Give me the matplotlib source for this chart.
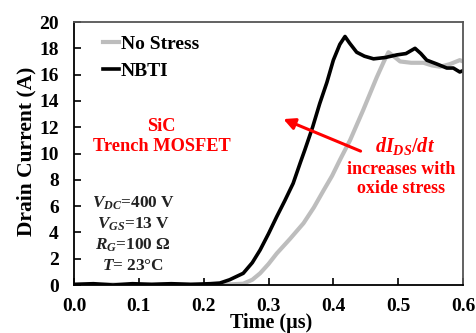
import matplotlib
matplotlib.use("Agg")
import matplotlib.pyplot as plt

plt.rcParams['font.family'] = ['Liberation Serif', 'DejaVu Serif']
plt.rcParams['font.weight'] = 'bold'
plt.rcParams['mathtext.fontset'] = 'custom'
plt.rcParams['mathtext.rm'] = 'Liberation Serif:bold'
plt.rcParams['mathtext.it'] = 'Liberation Serif:italic:bold'
plt.rcParams['mathtext.bf'] = 'Liberation Serif:bold'

# Data (time in us, current in A)
nbti_t = [0.0, 0.03, 0.06, 0.09, 0.12, 0.15, 0.18, 0.21, 0.225, 0.24, 0.261, 0.275,
          0.287, 0.30, 0.3127, 0.325, 0.338, 0.349, 0.356, 0.368, 0.379, 0.39, 0.40,
          0.41, 0.418, 0.425, 0.436, 0.448, 0.462, 0.48, 0.498, 0.512, 0.526, 0.535,
          0.544, 0.56, 0.575, 0.585, 0.595, 0.6]
nbti_i = [0.05, 0.1, 0.0, 0.1, 0.05, 0.1, 0.05, 0.1, 0.15, 0.4, 0.89, 1.7,
          2.66, 3.9, 5.2, 6.4, 7.73, 9.3, 10.27, 12.0, 13.8, 15.4, 17.1,
          18.3, 18.9, 18.4, 17.7, 17.4, 17.2, 17.3, 17.5, 17.6, 18.0, 17.6,
          17.1, 16.8, 16.5, 16.5, 16.2, 16.3]

nostress_t = [0.0, 0.05, 0.1, 0.15, 0.2, 0.24, 0.261, 0.275, 0.287, 0.30, 0.3127,
              0.333, 0.354, 0.37, 0.385, 0.398, 0.41, 0.4257, 0.446, 0.467, 0.478,
              0.485, 0.493, 0.503, 0.52, 0.539, 0.552, 0.5646, 0.58, 0.595, 0.6]
nostress_i = [0.0, 0.05, 0.0, 0.05, 0.0, 0.05, 0.1, 0.4, 0.89, 1.6, 2.4,
              3.5, 4.7, 5.9, 7.2, 8.3, 9.5, 11.0, 13.3, 15.8, 17.0,
              17.7, 17.4, 17.0, 16.9, 16.9, 16.7, 16.6, 16.8, 17.1, 17.0]

x_ticks = [0.0, 0.1, 0.2, 0.3, 0.4, 0.5, 0.6]
y_ticks = [0, 2, 4, 6, 8, 10, 12, 14, 16, 18, 20]

fig = plt.figure(figsize=(4.76, 3.33), dpi=100)
ax = fig.add_axes([0.1555, 0.1441, 0.8172, 0.7898])

ax.plot(nostress_t, nostress_i, color='#bdbdbd', lw=3.0, label='No Stress')
ax.plot(nbti_t, nbti_i, color='black', lw=2.6, label='NBTI')

ax.set_xlim(0, 0.6)
ax.set_ylim(0, 20)
ax.set_xticks(x_ticks)
ax.set_xticklabels([f'{v:.1f}' for v in x_ticks])
ax.set_yticks(y_ticks)
ax.tick_params(direction='in', length=5, width=1.2, labelsize=14)
ax.tick_params(axis='x', pad=9)
ax.tick_params(axis='y', pad=11)
for lab in ax.get_xticklabels() + ax.get_yticklabels():
    lab.set_fontweight('bold')
for s in ax.spines.values():
    s.set_linewidth(1.3)
ax.spines['top'].set_color('#555555')
ax.spines['right'].set_color('#555555')

ax.set_xlabel('Time (µs)', fontsize=14.5, fontweight='bold', va='center')
ax.xaxis.set_label_coords(0.506, -0.146)
ax.set_ylabel('Drain Current (A)', fontsize=15.5, fontweight='bold', va='center')
ax.yaxis.set_label_coords(-0.121, 0.51)

leg = ax.legend(loc='upper left', bbox_to_anchor=(0.03, 1.015), frameon=False,
                handlelength=0.8, handletextpad=0.1, labelspacing=0.45,
                prop={'family': 'Liberation Serif', 'weight': 'bold', 'size': 14})

ax.text(0.225, 0.565, 'SiC\nTrench MOSFET', transform=ax.transAxes, ha='center', va='center',
        color='red', fontsize=13.2, fontweight='bold', linespacing=1.2)

ax.text(0.152, 0.194, '$V_{DC}$=400 V\n$V_{GS}$=13 V\n$R_{G}$=100 Ω\n$T$= 23°C',
        transform=ax.transAxes, ha='center', va='center', color='#222222',
        fontsize=12.4, fontweight='bold', linespacing=1.3)

ax.annotate('', xy=(0.319, 12.7), xytext=(0.446, 10.1),
            arrowprops=dict(arrowstyle='-|>', color='red', lw=2.2,
                            mutation_scale=17))

ax.text(0.851, 0.53, '$dI_{DS}/dt$', transform=ax.transAxes, ha='center', va='center',
        color='red', fontsize=14.5)
ax.text(0.842, 0.403, 'increases with\noxide stress', transform=ax.transAxes,
        ha='center', va='center', color='red', fontsize=13, fontweight='bold',
        linespacing=1.15)

fig.savefig('out.png', dpi=100)
